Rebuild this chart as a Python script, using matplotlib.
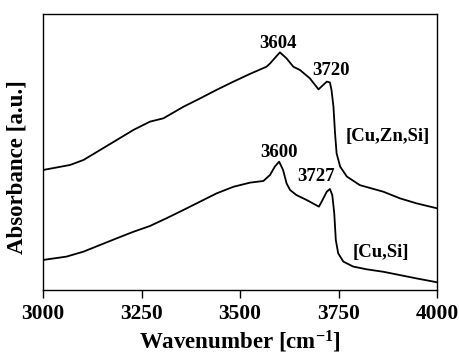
import matplotlib
matplotlib.use("Agg")
import matplotlib.pyplot as plt

plt.rcParams['font.family'] = ['Liberation Serif', 'DejaVu Serif']
plt.rcParams['font.weight'] = 'bold'
plt.rcParams['mathtext.fontset'] = 'custom'
plt.rcParams['mathtext.rm'] = 'Liberation Serif:bold'
plt.rcParams['mathtext.bf'] = 'Liberation Serif:bold'
plt.rcParams['mathtext.it'] = 'Liberation Serif:bold'

# [Cu,Zn,Si]
wn_znsi = [3000, 3068, 3102, 3144, 3186, 3229, 3271, 3305, 3356, 3398, 3440, 3483, 3525,
           3567, 3576, 3601, 3618, 3635, 3652, 3677, 3699, 3711, 3720, 3728, 3732, 3737,
           3741, 3745, 3754, 3771, 3804, 3864, 3906, 3948, 4000]
abs_znsi = [0.435, 0.453, 0.471, 0.507, 0.543, 0.580, 0.610, 0.622, 0.664, 0.694, 0.725,
            0.755, 0.783, 0.809, 0.821, 0.861, 0.839, 0.809, 0.797, 0.767, 0.727, 0.743,
            0.755, 0.752, 0.725, 0.664, 0.568, 0.495, 0.447, 0.411, 0.380, 0.356, 0.332,
            0.314, 0.296]

# [Cu,Si]
wn_si = [3000, 3059, 3102, 3144, 3186, 3229, 3271, 3313, 3356, 3398, 3440, 3483, 3525,
         3559, 3576, 3588, 3599, 3609, 3618, 3627, 3643, 3669, 3700, 3707, 3720, 3728,
         3734, 3739, 3743, 3749, 3762, 3787, 3821, 3864, 3906, 3948, 4000]
abs_si = [0.109, 0.121, 0.139, 0.163, 0.187, 0.211, 0.232, 0.260, 0.290, 0.320, 0.350,
          0.374, 0.389, 0.395, 0.417, 0.447, 0.465, 0.435, 0.386, 0.362, 0.344, 0.326,
          0.302, 0.320, 0.356, 0.366, 0.344, 0.278, 0.181, 0.133, 0.103, 0.085, 0.075,
          0.066, 0.054, 0.042, 0.028]

xticks = [3000, 3250, 3500, 3750, 4000]
peak_labels = ["3604", "3720", "3600", "3727"]
peak_pos = [(3595, 0.894), (3731, 0.797), (3598, 0.498), (3692, 0.411)]
series_labels = ["[Cu,Zn,Si]", "[Cu,Si]"]
series_pos = [(3876, 0.556), (3858, 0.136)]

fig = plt.figure(figsize=(4.6, 3.56), dpi=100)
ax = fig.add_axes([43.3/460, 1-290/356, (437-43.3)/460, (290-14)/356])

ax.plot(wn_znsi, abs_znsi, color='black', lw=1.3)
ax.plot(wn_si, abs_si, color='black', lw=1.3)

ax.set_xlim(3000, 4000)
ax.set_ylim(0, 1)
ax.set_xticks(xticks)
ax.set_xticklabels([str(t) for t in xticks], fontsize=15.5, fontweight='bold')
ax.set_yticks([])
ax.tick_params(axis='x', direction='out', length=6, width=1, pad=4)
for s in ax.spines.values():
    s.set_linewidth(1)

for t, (x, y) in zip(peak_labels, peak_pos):
    ax.text(x, y, t, ha='center', va='center', fontsize=13.5, fontweight='bold')
for t, (x, y) in zip(series_labels, series_pos):
    ax.text(x, y, t, ha='center', va='center', fontsize=13.5, fontweight='bold')

ax.set_xlabel("Wavenumber [cm$^{-1}$]", fontsize=16.5, fontweight='bold')
ax.xaxis.set_label_coords(0.5, -0.142)
ax.set_ylabel("Absorbance [a.u.]", fontsize=16.5, fontweight='bold')
ax.yaxis.set_label_coords(-0.04, 0.446)

fig.savefig("out.png", dpi=100)
